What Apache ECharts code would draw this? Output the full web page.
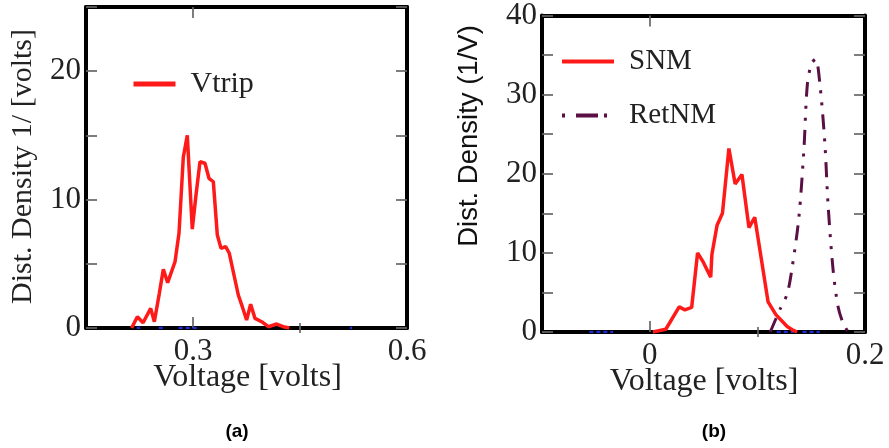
<!DOCTYPE html>
<html><head><meta charset="utf-8">
<script src="https://cdn.jsdelivr.net/npm/echarts@6/dist/echarts.min.js"></script>
<style>html,body{margin:0;padding:0;background:#fff}#c{width:889px;height:448px}</style>
</head><body><div id="c"></div>
<script>
// ---- Panel (a): Vtrip distribution ----
const vtripX = [0.214, 0.2163, 0.222, 0.230, 0.2407, 0.2458, 0.2528, 0.2584, 0.2645, 0.2748, 0.2804, 0.2864, 0.2920, 0.2990, 0.3042, 0.3098, 0.3168, 0.3224, 0.3285, 0.3341, 0.3393, 0.3458, 0.3509, 0.3635, 0.3691, 0.3752, 0.3808, 0.3869, 0.3962, 0.4056, 0.4173, 0.4266, 0.435];
const vtripY = [0, 0.1, 0.88, 0.41, 1.53, 0.49, 2.7, 4.57, 3.53, 5.16, 7.4, 13.3, 15.0, 7.7, 10.36, 12.95, 12.83, 11.66, 11.39, 7.24, 6.2, 6.33, 5.82, 2.57, 1.66, 0.62, 1.85, 0.75, 0.49, 0.1, 0.31, 0.1, 0];
const blueAX = [0.221, 0.226, null, 0.252, 0.262, null, 0.28, 0.306, null, 0.52, 0.523];
const blueAY = [0, 0, null, 0, 0, null, 0, 0, null, 0, 0];

// ---- Panel (b): SNM and RetNM distributions ----
const snmX = [0.003, 0.015, 0.0274, 0.0327, 0.039, 0.0445, 0.0498, 0.0567, 0.0578, 0.0626, 0.0676, 0.0736, 0.0794, 0.0857, 0.0922, 0.0976, 0.1100, 0.1172, 0.1277, 0.1335, 0.137];
const snmY = [0, 0.35, 3.17, 2.8, 3.1, 10.0, 8.82, 6.93, 9.8, 13.5, 15.0, 23.2, 18.7, 19.9, 13.2, 14.5, 3.8, 2.2, 0.7, 0.2, 0];
const retX = [0.112, 0.1215, 0.1277, 0.1324, 0.1386, 0.1433, 0.1464, 0.1502, 0.1542, 0.1579, 0.1626, 0.1657, 0.1704, 0.175, 0.1797, 0.1844];
const retY = [0, 3.0, 4.8, 8.2, 14.5, 23.2, 31.2, 33.9, 34.5, 31.6, 24.1, 16.1, 7.8, 3.2, 1.1, 0];
const blueBX = [-0.056, -0.034, null, 0.118, 0.134, null, 0.142, 0.158];
const blueBY = [0, 0, null, 0, 0, null, 0, 0];

// ---- tick labels / tick positions ----
const xLabelsA = [0.3, 0.6];
const xMajorTicksA = [0.3];
const xMinorTicksA = [0.45];
const yLabelsA = ['0', '10', '20'];
const xLabelsB = [0, 0.2];
const xMajorTicksB = [0];
const xMinorTicksB = [0.1];
const yLabelsB = ['0', '10', '20', '30', '40'];

const zip = (xs, ys) => xs.map((x, i) => x === null ? ['-', '-'] : [x, ys[i]]);
const fmt = (list) => (v) => {
  const s = String(+(+v).toFixed(4));
  return list.includes(s) ? s : '';
};
const serif = '"Liberation Serif", "Times New Roman", serif';
const sans = '"Liberation Sans", Arial, sans-serif';
const borderLine = { show: true, onZero: false, lineStyle: { color: '#000', width: 4 } };
const tickStyle = { color: '#666', width: 1.7 };
const labelStyle = { fontFamily: serif, fontSize: 31, color: '#222' };

function xAxes(gridIndex, min, max, labels, major, minor) {
  const base = { type: 'value', gridIndex, min, max, splitLine: { show: false } };
  const out = [];
  ['bottom', 'top'].forEach(pos => {
    out.push(Object.assign({}, base, {
      position: pos, axisLine: borderLine,
      axisTick: { show: true, inside: true, length: 11, customValues: major, lineStyle: tickStyle },
      axisLabel: pos === 'bottom'
        ? Object.assign({ show: true, customValues: labels, margin: 8, formatter: v => String(+(+v).toFixed(4)) }, labelStyle)
        : { show: false }
    }));
    out.push(Object.assign({}, base, {
      position: pos, axisLine: { show: false },
      axisTick: { show: true, inside: true, length: 5, customValues: minor, lineStyle: tickStyle },
      axisLabel: { show: false }
    }));
  });
  return out;
}
function yAxes(gridIndex, min, max, interval, labels) {
  const base = { type: 'value', gridIndex, min, max, interval, splitLine: { show: false }, axisLine: borderLine,
    axisTick: { show: true, inside: true, length: 11, lineStyle: tickStyle } };
  return [
    Object.assign({}, base, { position: 'left', axisLabel: Object.assign({ show: true, margin: 5, formatter: fmt(labels), showMinLabel: true, showMaxLabel: true }, labelStyle) }),
    Object.assign({}, base, { position: 'right', axisLabel: { show: false } })
  ];
}

const hiddenSymbol = { color: 'rgba(0,0,0,0)', borderWidth: 0, opacity: 0 };

const chart = echarts.init(document.getElementById('c'), null, { renderer: 'canvas' });
const option = {
  animation: false,
  backgroundColor: '#fff',
  grid: [
    { left: 86, top: 7, width: 321, height: 321 },
    { left: 542, top: 13, width: 323, height: 319 }
  ],
  xAxis: [
    ...xAxes(0, 0.15, 0.6, xLabelsA, xMajorTicksA, xMinorTicksA),   // 0..3
    ...xAxes(1, -0.1, 0.2, xLabelsB, xMajorTicksB, xMinorTicksB)    // 4..7
  ],
  yAxis: [
    ...yAxes(0, 0, 25, 5, yLabelsA),  // 0,1
    ...yAxes(1, 0, 40, 5, yLabelsB)   // 2,3
  ],
  legend: [
    {
      data: ['Vtrip'], left: 131, top: 69, orient: 'vertical', padding: 0,
      itemWidth: 42, itemHeight: 14, lineStyle: { width: 5 }, itemStyle: hiddenSymbol,
      textStyle: { fontFamily: serif, fontSize: 30, color: '#222', padding: [0, 0, 0, 10] }
    },
    {
      data: ['SNM', { name: 'RetNM', lineStyle: { type: [3, 11, 22, 6, 3, 60], width: 4 } }],
      left: 560, top: 47, orient: 'vertical', padding: 0,
      itemWidth: 52, itemHeight: 14, itemGap: 25, lineStyle: { width: 4 }, itemStyle: hiddenSymbol,
      textStyle: { fontFamily: serif, fontSize: 29, color: '#222', padding: [0, 0, 0, 10] }
    }
  ],
  series: [
    {
      name: 'blueA', type: 'line', xAxisIndex: 0, yAxisIndex: 0, data: zip(blueAX, blueAY),
      symbol: 'none', connectNulls: false, lineStyle: { color: '#1f2bd6', width: 2.5, type: [4, 3] }, silent: true, z: 1
    },
    {
      name: 'Vtrip', type: 'line', xAxisIndex: 0, yAxisIndex: 0, data: zip(vtripX, vtripY),
      symbol: 'none', color: '#ff1a1a', lineStyle: { color: '#ff1a1a', width: 3.5 }
    },
    {
      name: 'blueB', type: 'line', xAxisIndex: 4, yAxisIndex: 2, data: zip(blueBX, blueBY),
      symbol: 'none', connectNulls: false, lineStyle: { color: '#1f2bd6', width: 2.5, type: [4, 3] }, silent: true, z: 1
    },
    {
      name: 'SNM', type: 'line', xAxisIndex: 4, yAxisIndex: 2, data: zip(snmX, snmY),
      symbol: 'none', color: '#ff1a1a', lineStyle: { color: '#ff1a1a', width: 3.5 }
    },
    {
      name: 'RetNM', type: 'line', xAxisIndex: 4, yAxisIndex: 2, data: zip(retX, retY),
      symbol: 'none', smooth: 0.3, color: '#5a0f45',
      lineStyle: { color: '#5a0f45', width: 3, type: [15, 9, 3, 9, 3, 9] }
    }
  ],
  graphic: [
    { type: 'text', x: 23, y: 166.5, rotation: Math.PI / 2,
      style: { text: 'Dist. Density 1/ [volts]', font: '30px ' + serif, fill: '#222', align: 'center', verticalAlign: 'middle' } },
    { type: 'text', x: 469, y: 136, rotation: Math.PI / 2,
      style: { text: 'Dist. Density (1/V)', font: '27.5px ' + sans, fill: '#111', align: 'center', verticalAlign: 'middle' } },
    { type: 'text', x: 247.5, y: 377.5,
      style: { text: 'Voltage [volts]', font: '32px ' + serif, fill: '#222', align: 'center', verticalAlign: 'middle' } },
    { type: 'text', x: 704, y: 381.5,
      style: { text: 'Voltage [volts]', font: '32px ' + serif, fill: '#222', align: 'center', verticalAlign: 'middle' } },
    { type: 'text', x: 237, y: 432,
      style: { text: '(a)', font: 'bold 19px ' + sans, fill: '#000', align: 'center', verticalAlign: 'middle' } },
    { type: 'text', x: 714, y: 432,
      style: { text: '(b)', font: 'bold 19px ' + sans, fill: '#000', align: 'center', verticalAlign: 'middle' } }
  ]
};
chart.setOption(option);
</script>
</body></html>
